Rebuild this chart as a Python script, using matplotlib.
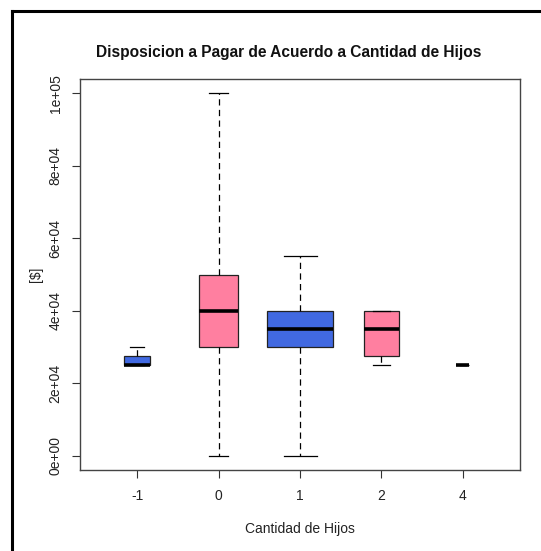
import matplotlib
matplotlib.use("Agg")
import matplotlib.pyplot as plt
from matplotlib.lines import Line2D

# ---- data ----
categories = ["-1", "0", "1", "2", "4"]
whisker_low = [25000, 0, 0, 25000, 25000]
q1 = [25000, 30000, 30000, 27500, 25000]
median = [25000, 40000, 35000, 35000, 25000]
q3 = [27500, 50000, 40000, 40000, 25000]
whisker_high = [30000, 100000, 55000, 40000, 25000]
y_ticks = [0, 20000, 40000, 60000, 80000, 100000]
y_tick_labels = ["0e+00", "2e+04", "4e+04", "6e+04", "8e+04", "1e+05"]

# ---- style ----
box_widths = [0.33, 0.47, 0.81, 0.44, 0.16]
box_colors = ["#4169E1", "#FF7FA0", "#4169E1", "#FF7FA0", "#4169E1"]

plt.rcParams["font.family"] = ["Liberation Sans", "DejaVu Sans"]

W, H = 541, 551
fig = plt.figure(figsize=(W / 100, H / 100), dpi=100)
fig.patch.set_facecolor("white")

ax = fig.add_axes([80 / W, (H - 470) / H, 440 / W, 391 / H])

positions = list(range(1, len(categories) + 1))
stats = []
for i in range(len(categories)):
    stats.append(dict(med=median[i], q1=q1[i], q3=q3[i],
                      whislo=whisker_low[i], whishi=whisker_high[i],
                      fliers=[], label=categories[i]))

bp = ax.bxp(stats, positions=positions, widths=box_widths, patch_artist=True,
            showfliers=False,
            boxprops=dict(edgecolor="#222222", linewidth=0.9),
            medianprops=dict(color="black", linewidth=2.6, solid_capstyle="butt"),
            whiskerprops=dict(color="black", linewidth=0.9, linestyle=(0, (5, 3.5))),
            capprops=dict(color="black", linewidth=0.9),
            capwidths=[w * 0.5 for w in box_widths])
for patch, c in zip(bp["boxes"], box_colors):
    patch.set_facecolor(c)

ax.set_xlim(0.3, 5.7)
ax.set_ylim(-4000, 104000)
ax.set_xticks(positions)
ax.set_xticklabels(categories, fontsize=10, color="#222222")
ax.set_yticks(y_ticks)
ax.set_yticklabels(y_tick_labels, rotation=90, va="center", fontsize=10, color="#222222")
ax.tick_params(axis="both", length=5.5, width=0.8, color="#333333")
ax.tick_params(axis="x", pad=8.0)
ax.tick_params(axis="y", pad=7.0)
for s in ax.spines.values():
    s.set_color("#444444")
    s.set_linewidth(1.0)

ax.set_xlabel("Cantidad de Hijos", fontsize=10, color="#222222", va="center")
ax.xaxis.set_label_coords(0.5, -(529 - 470) / 391)
ax.set_ylabel("[$]", fontsize=10, color="#222222", va="center")
ax.yaxis.set_label_coords(-(80 - 36) / 440, 0.5)

fig.text(289 / W, 1 - 52 / H, "Disposicion a Pagar de Acuerdo a Cantidad de Hijos",
         ha="center", va="center", fontsize=11.2, fontweight="bold", color="#111111")

# outer black frame (left and top edges visible)
fig.add_artist(Line2D([12 / W, 12 / W], [0, 1 - 11 / H], transform=fig.transFigure,
                      color="black", linewidth=2.2, solid_capstyle="projecting"))
fig.add_artist(Line2D([12 / W, 1], [1 - 11 / H, 1 - 11 / H], transform=fig.transFigure,
                      color="black", linewidth=2.2, solid_capstyle="projecting"))

fig.savefig("out.png", dpi=100)
